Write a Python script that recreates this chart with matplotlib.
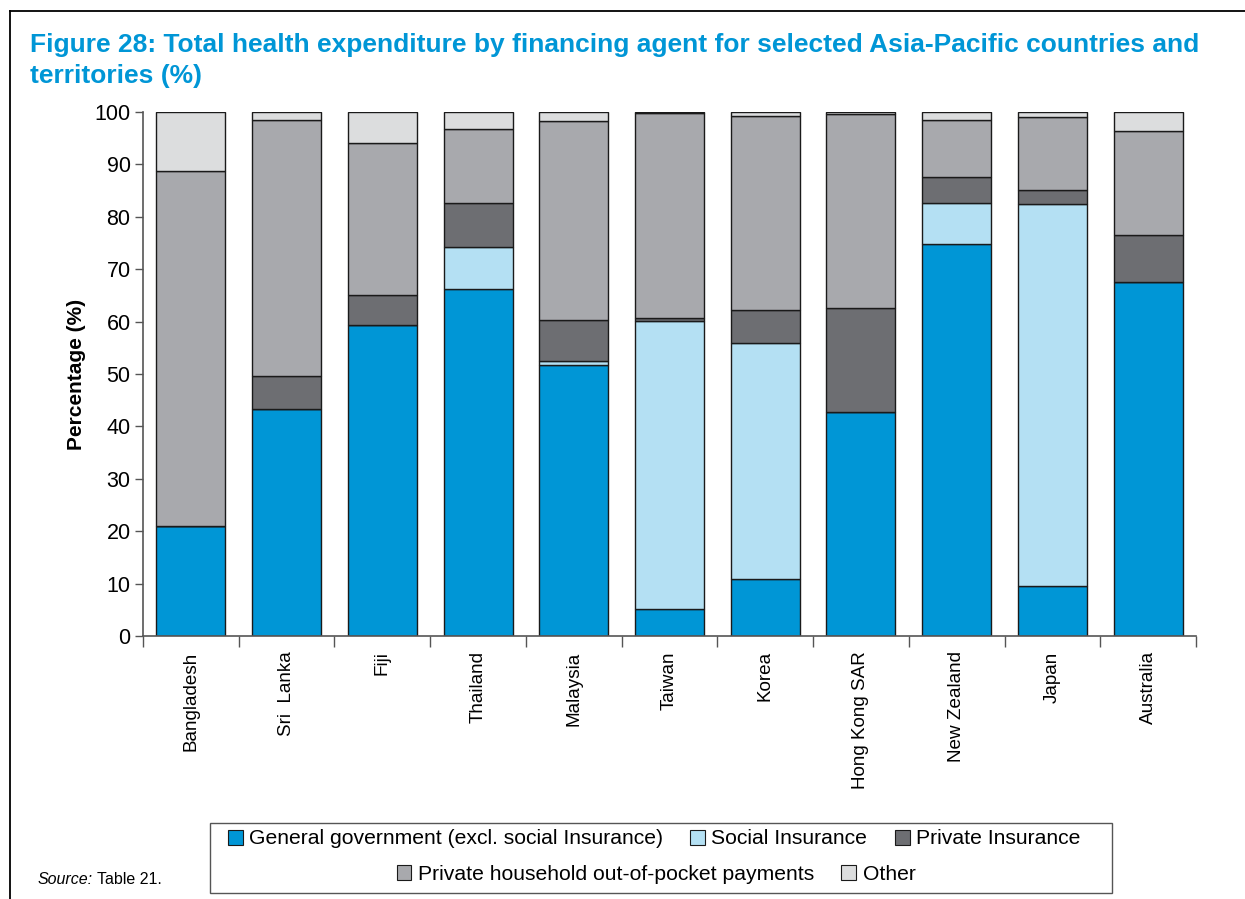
import matplotlib
matplotlib.use("Agg")
import matplotlib.pyplot as plt
from matplotlib.patches import Patch, Rectangle
from matplotlib.lines import Line2D
import numpy as np

plt.rcParams['font.family'] = ['Liberation Sans', 'DejaVu Sans']

countries = ["Bangladesh", "Sri  Lanka", "Fiji", "Thailand", "Malaysia", "Taiwan",
             "Korea", "Hong Kong SAR", "New Zealand", "Japan", "Australia"]

# shares of total health expenditure (%)
general_gov = [21.0, 43.3, 59.4, 66.3, 51.8, 5.2, 10.9, 42.7, 74.9, 9.5, 67.6]
social_ins = [0.0, 0.0, 0.0, 8.0, 0.7, 55.0, 45.0, 0.0, 7.8, 73.0, 0.0]
private_ins = [0.0, 6.4, 5.7, 8.3, 7.9, 0.4, 6.4, 19.9, 4.8, 2.6, 8.9]
out_of_pocket = [67.7, 48.7, 28.9, 14.2, 37.8, 39.3, 37.0, 37.0, 10.9, 13.9, 19.9]
other = [11.3, 1.6, 6.0, 3.2, 1.8, 0.1, 0.7, 0.4, 1.6, 1.0, 3.6]

series_names = ["General government (excl. social Insurance)", "Social Insurance",
                "Private Insurance", "Private household out-of-pocket payments", "Other"]
colors = ["#0096d6", "#b4e0f3", "#6d6e72", "#a8a9ad", "#dcddde"]

W, H = 1245, 899
fig = plt.figure(figsize=(W / 100, H / 100), dpi=100)
ax = fig.add_axes([143 / W, 263 / H, 1053 / W, 524 / H])

x = np.arange(len(countries))
bottom = np.zeros(len(countries))
for vals, col in zip([general_gov, social_ins, private_ins, out_of_pocket, other], colors):
    vals = np.array(vals)
    ax.bar(x, vals, 0.72, bottom=bottom, color=col, edgecolor="#1a1a1a", linewidth=1.0)
    bottom += vals

ax.set_xlim(-0.5, len(countries) - 0.5)
ax.set_ylim(0, 100)
ax.set_yticks(np.arange(0, 101, 10))
ax.tick_params(axis="y", labelsize=15.5, length=6, width=1, color="#555555", pad=3)
ax.set_xticks(x)
ax.set_xticklabels(countries, rotation=90, fontsize=13.6)
ax.tick_params(axis="x", which="major", length=0, pad=11)
ax.set_xticks(np.arange(-0.5, len(countries), 1), minor=True)
ax.tick_params(axis="x", which="minor", length=8, width=1, color="#555555")
for side in ["top", "right"]:
    ax.spines[side].set_visible(False)
for side in ["left", "bottom"]:
    ax.spines[side].set_color("#555555")
    ax.spines[side].set_linewidth(1.2)
ax.set_ylabel("Percentage (%)", fontsize=15, fontweight="bold", labelpad=6)

# title
fig.text(30 / W, 1 - 33 / H,
         "Figure 28: Total health expenditure by financing agent for selected Asia-Pacific countries and\nterritories (%)",
         color="#0096d6", fontsize=19, fontweight="bold", ha="left", va="top", linespacing=1.35)

# outer frame
fig.add_artist(Line2D([10 / W, 10 / W], [0, 1 - 11 / H], color="black", lw=1.3))
fig.add_artist(Line2D([10 / W, 1], [1 - 11 / H, 1 - 11 / H], color="black", lw=1.3))

# legend: box with two centred rows
fig.add_artist(Rectangle((210 / W, 1 - 893 / H), 902 / W, 70 / H,
                         transform=fig.transFigure, fill=False, edgecolor="#555555", lw=1.0))
handles = [Patch(facecolor=c, edgecolor="#1a1a1a", linewidth=0.8) for c in colors]
leg_kw = dict(ncol=3, loc="center", frameon=False, fontsize=15.2, handlelength=0.7,
              handleheight=0.7, handletextpad=0.3, columnspacing=1.3)
fig.legend(handles[:3], series_names[:3], bbox_to_anchor=(654 / W, 1 - 839 / H), **leg_kw)
leg_kw["ncol"] = 2
fig.legend(handles[3:], series_names[3:], bbox_to_anchor=(656 / W, 1 - 874 / H), **leg_kw)

# source note
src = fig.text(38 / W, 1 - 880 / H, "Source:", fontsize=11.5, style="italic", ha="left", va="center")
fig.canvas.draw()
bb = src.get_window_extent(fig.canvas.get_renderer())
fig.text((bb.x1 + 4) / W, 1 - 880 / H, "Table 21.", fontsize=11.5, ha="left", va="center")

fig.savefig("out.png", dpi=100)
